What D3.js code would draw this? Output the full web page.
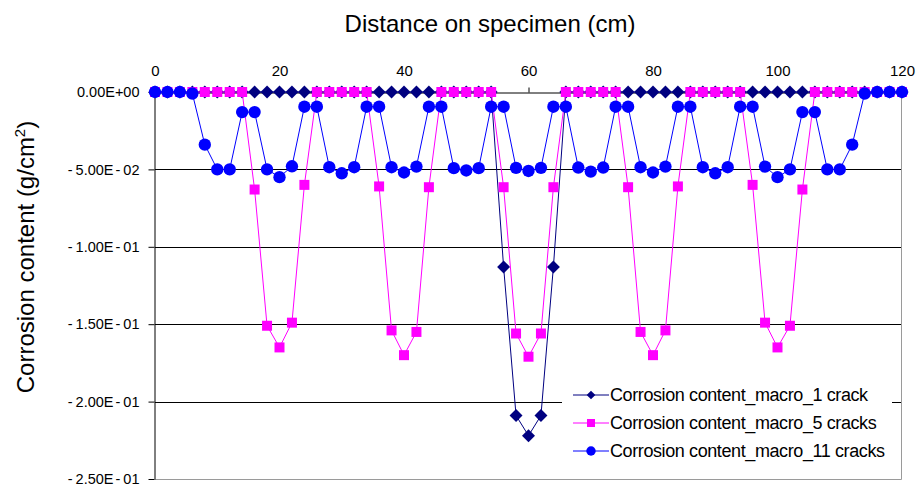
<!DOCTYPE html>
<html>
<head>
<meta charset="utf-8">
<script src="https://cdn.jsdelivr.net/npm/d3@7"></script>
<style>
    body { margin: 0; background: #fff; }
    text { font-family: Arial, "Liberation Sans", sans-serif; }
</style>
</head>
<body>
<svg id="chart"></svg>
<script>
// distance along the specimen (cm)
const distance = [0, 2, 4, 6, 8, 10, 12, 14, 16, 18, 20, 22, 24, 26, 28, 30, 32, 34, 36, 38,
    40, 42, 44, 46, 48, 50, 52, 54, 56, 58, 60, 62, 64, 66, 68, 70, 72, 74, 76, 78,
    80, 82, 84, 86, 88, 90, 92, 94, 96, 98, 100, 102, 104, 106, 108, 110, 112, 114, 116, 118, 120];

const crack1 = [0, 0, 0, 0, 0, 0, 0, 0, 0, 0, 0, 0, 0, 0, 0, 0, 0, 0, 0, 0,
    0, 0, 0, 0, 0, 0, 0, 0, -0.113, -0.209, -0.222, -0.209, -0.113, 0, 0, 0, 0, 0, 0, 0,
    0, 0, 0, 0, 0, 0, 0, 0, 0, 0, 0, 0, 0, 0, 0, 0, 0, 0, 0, 0, 0];

const crack5 = [0, 0, 0, 0, 0, 0, 0, 0, -0.063, -0.151, -0.165, -0.149, -0.060, 0, 0, 0, 0, 0, -0.061, -0.154,
    -0.170, -0.155, -0.0615, 0, 0, 0, 0, 0, -0.0615, -0.156, -0.171, -0.156, -0.0615, 0, 0, 0, 0, 0, -0.0615, -0.155,
    -0.170, -0.154, -0.061, 0, 0, 0, 0, 0, -0.060, -0.149, -0.165, -0.151, -0.063, 0, 0, 0, 0, 0, 0, 0, 0];

const crack11 = [0, 0, 0, -0.001, -0.034, -0.050, -0.050, -0.013, -0.013, -0.050, -0.055, -0.048, -0.0095, -0.0095, -0.0486, -0.0525, -0.0486, -0.0095, -0.0095, -0.0486,
    -0.052, -0.0482, -0.0095, -0.0095, -0.0492, -0.0507, -0.0492, -0.0095, -0.0095, -0.049, -0.051, -0.049, -0.0095, -0.0095, -0.0488, -0.0514, -0.0488, -0.0095, -0.0095, -0.0486,
    -0.052, -0.0482, -0.0095, -0.0095, -0.0486, -0.0525, -0.0486, -0.0095, -0.0095, -0.0482, -0.055, -0.050, -0.013, -0.013, -0.050, -0.050, -0.034, -0.001, 0, 0, 0];

const xTicks = [0, 20, 40, 60, 80, 100, 120];
const yTicks = [0, -0.05, -0.1, -0.15, -0.2, -0.25];
const yTickLabels = ["0.00E+00", "-5.00E-02", "-1.00E-01", "-1.50E-01", "-2.00E-01", "-2.50E-01"];

const seriesNames = ["Corrosion content_macro_1 crack", "Corrosion content_macro_5 cracks", "Corrosion content_macro_11 cracks"];
const seriesColors = ["#000080", "#ff00ff", "#0000ff"];
const seriesShapes = ["diamond", "square", "circle"];

const width = 917;
const height = 490;

const svg = d3.select("#chart")
    .attr("width", width)
    .attr("height", height);

const x = d3.scaleLinear().domain([0, 120]).range([155, 902]);
const y = d3.scaleLinear().domain([0, -0.25]).range([92, 479]);

// gridlines
svg.append("g")
    .selectAll("line")
    .data(yTicks.slice(1, -1))
    .join("line")
    .attr("x1", x(0))
    .attr("x2", x(120))
    .attr("y1", d => Math.round(y(d)) + 0.5)
    .attr("y2", d => Math.round(y(d)) + 0.5)
    .attr("stroke", "#000")
    .attr("stroke-width", 1);

// plot border right/bottom
svg.append("path")
    .attr("d", `M${x(120) - 0.5},${y(0)}V${Math.round(y(-0.25)) + 0.5}H${x(0)}`)
    .attr("fill", "none")
    .attr("stroke", "#9a9a9a")
    .attr("stroke-width", 1);

// axes
const xAxis = svg.append("g")
    .attr("transform", `translate(0,${Math.round(y(0)) + 0.5})`)
    .call(d3.axisTop(x).tickValues(xTicks).tickSize(5).tickSizeOuter(0).tickPadding(12));
xAxis.selectAll("text").style("font-size", "15px").attr("fill", "#000");

const yAxis = svg.append("g")
    .attr("transform", `translate(${x(0) - 0.5},0)`)
    .call(d3.axisLeft(y).tickValues(yTicks).tickSize(6).tickSizeOuter(0).tickPadding(9)
        .tickFormat((d, i) => yTickLabels[i]));
yAxis.selectAll("text")
    .style("font-size", "14.5px")
    .attr("fill", "#000")
    .each(function(d, i) {
        // Excel puts a little gap after each minus sign
        const t = d3.select(this);
        const parts = yTickLabels[i].split("-");
        t.text(null);
        parts.forEach(function(p, k) {
            if (k > 0) t.append("tspan").attr("dx", k > 1 ? 2 : 0).text("-");
            if (p) t.append("tspan").attr("dx", k > 0 ? 3 : 0).text(p);
        });
    });

svg.selectAll(".domain").attr("stroke", "#000");
svg.selectAll(".tick line").attr("stroke", "#000");

// titles
svg.append("text")
    .attr("x", 490)
    .attr("y", 32)
    .attr("text-anchor", "middle")
    .style("font-size", "24px")
    .text("Distance on specimen (cm)");

const yTitle = svg.append("text")
    .attr("transform", "translate(34,257) rotate(-90)")
    .attr("text-anchor", "middle")
    .style("font-size", "24px");
yTitle.append("tspan").text("Corrosion content (g/cm");
yTitle.append("tspan").attr("dy", "-9").style("font-size", "15px").text("2");
yTitle.append("tspan").attr("dy", "9").text(")");

// markers
const symbolFor = function(shape, size) {
    if (shape === "diamond") return d3.symbol().type(d3.symbolSquare).size(size * 0.62)();
    if (shape === "square") return d3.symbol().type(d3.symbolSquare).size(size)();
    return d3.symbol().type(d3.symbolCircle).size(size)();
};

const series = [crack1, crack5, crack11];
const markerSizes = [135, 100, 120];

const line = d3.line()
    .x(d => x(d[0]))
    .y(d => y(d[1]));

series.forEach(function(values, i) {
    const pts = distance.map((d, j) => [d, values[j]]);
    const g = svg.append("g");

    g.append("path")
        .datum(pts)
        .attr("d", line)
        .attr("fill", "none")
        .attr("stroke", seriesColors[i])
        .attr("stroke-width", 1);

    g.selectAll(".pt")
        .data(pts)
        .join("path")
        .attr("class", "pt")
        .attr("d", symbolFor(seriesShapes[i], markerSizes[i]))
        .attr("transform", d => `translate(${x(d[0])},${y(d[1])})` + (seriesShapes[i] === "diamond" ? " rotate(45)" : ""))
        .attr("fill", seriesColors[i]);
});

// legend
const legend = svg.append("g");
legend.append("rect")
    .attr("x", 562)
    .attr("y", 378)
    .attr("width", 330)
    .attr("height", 88)
    .attr("fill", "#fff");

const legendRows = [395, 423, 451];
const legendSizes = [60, 64, 70];

seriesNames.forEach(function(name, i) {
    const row = legend.append("g").attr("transform", `translate(0,${legendRows[i]})`);
    row.append("line")
        .attr("x1", 573)
        .attr("x2", 609)
        .attr("stroke", seriesColors[i])
        .attr("stroke-width", 1);
    row.append("path")
        .attr("d", symbolFor(seriesShapes[i], legendSizes[i]))
        .attr("transform", "translate(591,0)" + (seriesShapes[i] === "diamond" ? " rotate(45)" : ""))
        .attr("fill", seriesColors[i]);
    row.append("text")
        .attr("x", 610)
        .attr("y", 0)
        .attr("dy", "0.36em")
        .style("font-size", "18px")
        .style("letter-spacing", "-0.4px")
        .text(name);
});
</script>
</body>
</html>
